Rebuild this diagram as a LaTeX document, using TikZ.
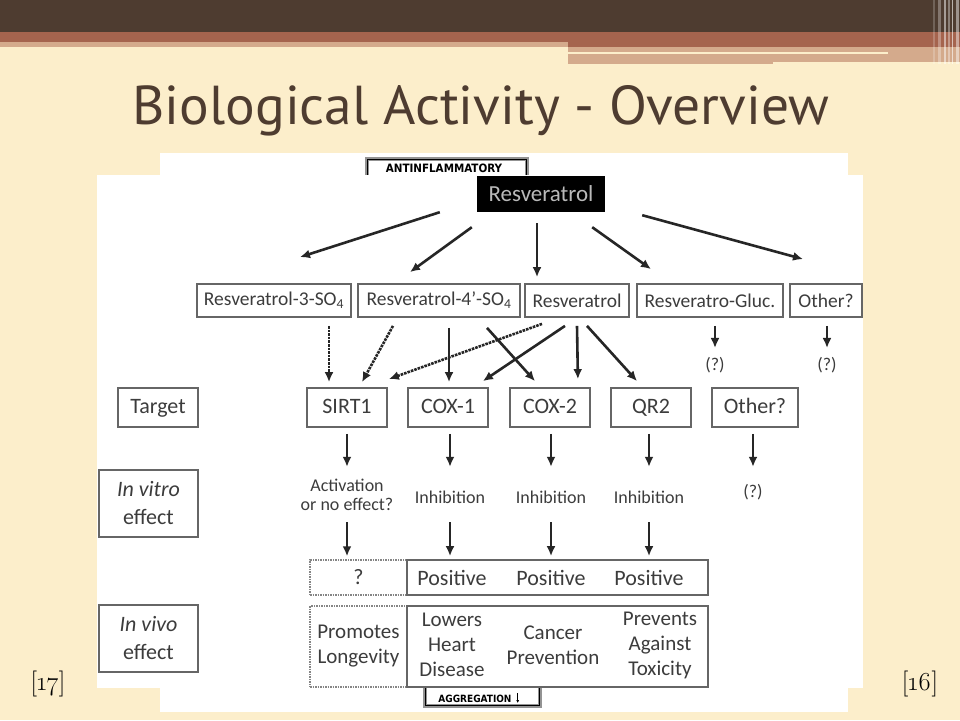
\documentclass[tikz,border=0pt]{standalone}
\usepackage{fontspec}
\setmainfont{Carlito}
\newfontfamily\titlefont{PT Sans}
\newfontfamily\capsfont{DejaVu Sans Condensed}
\newfontfamily\citefont{Latin Modern Roman}
\usetikzlibrary{calc,arrows.meta}
\definecolor{creme}{HTML}{FCEECB}
\definecolor{brun}{HTML}{4E3C30}
\definecolor{rouille}{HTML}{A5644E}
\definecolor{sable}{HTML}{D4AA8C}
\definecolor{trait}{HTML}{666666}
\definecolor{texte}{HTML}{3C3C3C}
\tikzset{
    boite/.style={draw=trait, line width=1.8pt, inner sep=0pt, text=texte, align=center},
    tirets/.style={draw=trait!80, line width=1.5pt, densely dotted, inner sep=0pt, text=texte, align=center},
    mot/.style={inner sep=0pt, text=texte, align=center},
    petit/.style={font=\fontsize{18}{19}\selectfont},
    grand/.style={font=\fontsize{22}{28}\selectfont},
    moyen/.style={font=\fontsize{21}{25}\selectfont},
    cible/.style={boite, grand, minimum width=80pt, minimum height=39pt, text height=15pt, text depth=4pt},
    ligne/.style={boite, font=\fontsize{19.5}{20}\selectfont, minimum height=33pt},
    fleche/.style={draw=black!85, line width=2.6pt, -{Latex[length=10pt,width=9pt]}},
    pointille/.style={fleche, densely dotted},
    cadre/.style={draw=gray!85, line width=4pt, fill=white, inner sep=0pt},
  }

\begin{document}
\begin{tikzpicture}[x=1pt,y=-1pt]
          %unite : 1pt = 1 pixel, y vers le bas
          %fleche a partir d'une ancre : ($(a.south)+(dx,dy)$)
          \useasboundingbox[fill=creme] (0,0) rectangle (960,720);
          %bandeau du haut
          \fill[brun] (0,0) rectangle (960,32);
          \fill[rouille] (0,32) rectangle (960,42);
          \fill[rouille] (568,42) rectangle (960,47);
          \fill[sable] (0,42) rectangle (568,47);
          \fill[sable] (568,47) rectangle (960,62);
          \fill[sable] (568,62) rectangle (773,64);
          \fill[creme] (568,51.5) rectangle (888,54);
          \foreach \x/\w/\o in {933/2/0.2, 938/3/0.3, 944/1.5/0.5, 948/2/0.35, 952/1/0.6, 956/3/0.45}
            \fill[white, opacity=\o] (\x,0) rectangle ++(\w,64);

          \node[anchor=base, text=brun, font=\titlefont] (titre) at (481,124)
            {\resizebox{697pt}{39pt}{Biological Activity - Overview}};

          %image
          \fill[white] (160,153) rectangle (848,712);
          \node[cadre, minimum width=160pt, minimum height=24pt, anchor=north] (anti) at (447,157) {};
          \draw[black, line width=0.7pt] ($(anti.north west)+(2.5,2.5)$) rectangle ($(anti.south east)+(-2.5,-2.5)$);
          \node[inner sep=0pt, font=\capsfont\bfseries\fontsize{11.5}{12}\selectfont] (antitxt) at (444,168) {ANTINFLAMMATORY};
          \node[cadre, minimum width=115pt, minimum height=40pt, anchor=south] (agg) at (482.5,708) {};
          \draw[black, line width=0.7pt] ($(agg.north west)+(2.5,2.5)$) rectangle ($(agg.south east)+(-2.5,-2.5)$);
          \node[inner sep=0pt, font=\capsfont\bfseries\fontsize{10}{10}\selectfont] (plt) at (475,685) {PLATELET};
          \node[inner sep=0pt, font=\capsfont\bfseries\fontsize{10}{10}\selectfont] (aggtxt) at (475,699) {AGGREGATION};
          \draw[line width=0.8pt, -{Latex[length=3pt,width=3pt]}] ($(aggtxt.east)+(6,-6)$) -- ($(aggtxt.east)+(6,4)$);
          \fill[white] (97,175) rectangle (863,688);

          \node[fill=black, text=gray!55, inner sep=0pt, minimum width=128pt, minimum height=36pt,
                font=\fontsize{23}{23}\selectfont] (resv) at (541,194) {Resveratrol};

          %metabolites
          \node[ligne, minimum width=154pt] (s3) at (274,300.5) {Resveratrol-3-SO\textsubscript{4}};
          \node[ligne, minimum width=162pt] (s4) at (439,300.5) {Resveratrol-4’-SO\textsubscript{4}};
          \node[ligne, minimum width=104pt] (res) at (577,300.5) {Resveratrol};
          \node[ligne, minimum width=146pt] (gluc) at (710,300.5) {Resveratro-Gluc.};
          \node[ligne, minimum width=72pt] (autre) at (826,300.5) {Other?};
          \node[mot, petit] (q1) at (715,365) {(?)};
          \node[mot, petit] (q2) at (827,365) {(?)};

          %cibles
          \node[cible] (target) at (158,407.5) {Target};
          \node[cible] (sirt) at (347,407.5) {SIRT1};
          \node[cible] (cox1) at (448,407.5) {COX-1};
          \node[cible] (cox2) at (550,407.5) {COX-2};
          \node[cible] (qr2) at (651,407.5) {QR2};
          \node[cible, minimum width=86pt] (autre2) at (755,407.5) {Other?};

          %in vitro
          \node[boite, grand, minimum width=99pt, minimum height=67pt] (vitro) at (148.5,503.5) {\textit{In vitro}\\effect};
          \node[mot, petit, minimum height=46pt] (act) at (347,495) {Activation\\or no effect?};
          \node[mot, petit, minimum height=46pt] (inh1) at (450,497) {Inhibition};
          \node[mot, petit, minimum height=46pt] (inh2) at (551,497) {Inhibition};
          \node[mot, petit, minimum height=46pt] (inh3) at (649,497) {Inhibition};
          \node[mot, petit, minimum height=46pt] (q3) at (753,492) {(?)};

          %in vivo
          \node[tirets, grand, minimum width=97pt, minimum height=35pt] (qm) at (358.5,577.5) {?};
          \node[boite, minimum width=301pt, minimum height=35pt] (pos) at (557.5,577.5) {};
          \node[mot, grand] (p1) at (452,578) {Positive};
          \node[mot, grand] (p2) at (551,578) {Positive};
          \node[mot, grand] (p3) at (649,578) {Positive};
          \node[boite, grand, minimum width=99pt, minimum height=67pt] (vivo) at (148.5,638.5) {\textit{In vivo}\\effect};
          \node[tirets, moyen, minimum width=97pt, minimum height=81pt] (lon) at (358.5,646.5) {Promotes\\Longevity};
          \node[boite, minimum width=301pt, minimum height=81pt] (eff) at (557.5,646.5) {};
          \node[mot, moyen] (e1) at (452,645) {Lowers\\Heart\\Disease};
          \node[mot, moyen] (e2) at (553,645) {Cancer\\Prevention};
          \node[mot, moyen] (e3) at (660,645) {Prevents\\Against\\Toxicity};

          %fleches du haut
          \draw[fleche] ($(resv.south west)+(-37,0)$) -- ($(s3.north)+(26,-26)$);
          \draw[fleche] ($(resv.south west)+(-5,15)$) -- ($(s4.north)+(-29,-11)$);
          \draw[fleche] ($(resv.south)+(-4,11)$) -- ($(res.north)+(-40,-6)$);
          \draw[fleche] ($(resv.south east)+(-13,15)$) -- ($(gluc.north)+(-59,-14)$);
          \draw[fleche] ($(resv.south east)+(37,3)$) -- ($(autre.north)+(-23,-24)$);

          %metabolites vers cibles
          \draw[pointille] ($(s3.south)+(55,8)$) -- ($(sirt.north)+(-18,-5)$);
          \draw[pointille] ($(s4.south)+(-46,8)$) -- ($(sirt.north)+(15,-5)$);
          \draw[pointille] ($(res.south)+(-35,6)$) -- ($(sirt.north east)+(1,-8)$);
          \draw[fleche] ($(s4.south)+(10,10)$) -- ($(cox1.north)+(1,-5)$);
          \draw[fleche] ($(s4.south)+(48,10)$) -- ($(cox2.north)+(-15,-6)$);
          \draw[fleche] ($(res.south)+(-12,8)$) -- ($(cox1.north east)+(-6,-6)$);
          \draw[fleche] ($(res.south)+(0,8)$) -- ($(cox2.north east)+(-13,-8)$);
          \draw[fleche] ($(res.south)+(10,8)$) -- ($(qr2.north)+(-14,-6)$);
          \draw[fleche] ($(gluc.south)+(5,8)$) -- ($(q1.north)+(0,-9)$);
          \draw[fleche] ($(autre.south)+(1,8)$) -- ($(q2.north)+(0,-9)$);

          %cibles vers effets
          \draw[fleche] ($(sirt.south)+(0,6)$) -- ($(act.north)+(0,-5)$);
          \draw[fleche] ($(cox1.south)+(2,6)$) -- ($(inh1.north)+(0,-7)$);
          \draw[fleche] ($(cox2.south)+(1,6)$) -- ($(inh2.north)+(0,-7)$);
          \draw[fleche] ($(qr2.south)+(-2,6)$) -- ($(inh3.north)+(0,-7)$);
          \draw[fleche] ($(autre2.south)+(-2,6)$) -- ($(q3.north)+(0,-2)$);
          \draw[fleche] ($(act.south)+(0,4)$) -- ($(act.south |- qm.north)+(0,-3)$);
          \draw[fleche] ($(inh1.south)+(0,2)$) -- ($(inh1.south |- pos.north)+(0,-3)$);
          \draw[fleche] ($(inh2.south)+(0,2)$) -- ($(inh2.south |- pos.north)+(0,-3)$);
          \draw[fleche] ($(inh3.south)+(0,2)$) -- ($(inh3.south |- pos.north)+(0,-3)$);

          %references
          \node[text=black, font=\citefont\fontsize{26}{26}\selectfont] (ref17) at (48,684) {[\oldstylenums{17}]};
          \node[text=black, font=\citefont\fontsize{26}{26}\selectfont] (ref16) at (920,684) {[\oldstylenums{16}]};
\end{tikzpicture}
\end{document}
